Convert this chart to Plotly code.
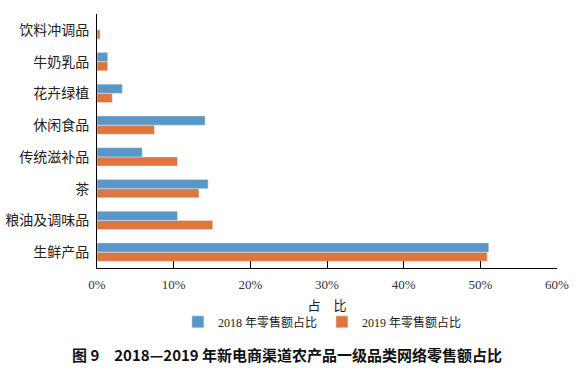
import plotly.graph_objects as go

categories = ["饮料冲调品", "牛奶乳品", "花卉绿植", "休闲食品", "传统滋补品", "茶", "粮油及调味品", "生鲜产品"]
share_2018 = [0.0, 1.4, 3.3, 14.1, 5.9, 14.5, 10.5, 51.1]
share_2019 = [0.4, 1.4, 2.0, 7.5, 10.5, 13.3, 15.1, 50.9]
x_ticks = [0, 10, 20, 30, 40, 50, 60]
x_tick_labels = ["0%", "10%", "20%", "30%", "40%", "50%", "60%"]

cjk = "Noto Sans CJK SC"
serif = "Liberation Serif"

fig = go.Figure()
fig.add_trace(go.Bar(y=categories, x=share_2019, orientation="h", name="2019 年零售额占比",
                     marker_color="#E0763F", legendrank=2))
fig.add_trace(go.Bar(y=categories, x=share_2018, orientation="h", name="2018 年零售额占比",
                     marker_color="#5A96C6", legendrank=1))

fig.update_layout(
    width=582, height=370,
    margin=dict(l=97, r=25, t=14, b=102),
    paper_bgcolor="white", plot_bgcolor="white",
    barmode="group", bargap=0.42, bargroupgap=0,
    font=dict(family=cjk, color="#222"),
    showlegend=True,
    legend=dict(orientation="h", x=0.49, xanchor="center", y=-0.155, yanchor="top",
                font=dict(family=serif + ", " + cjk, size=12, color="#222"),
                itemwidth=30, traceorder="normal", tracegroupgap=0),
    annotations=[dict(text="<b>图 9　2018—2019 年新电商渠道农产品一级品类网络零售额占比</b>",
                      xref="paper", yref="paper", x=0.413, y=-0.29, xanchor="center", yanchor="top",
                      showarrow=False, font=dict(family=cjk, size=15, color="#111"))],
)
fig.update_xaxes(range=[0, 60], tickvals=x_ticks, ticktext=x_tick_labels, automargin=False,
                 showgrid=False, zeroline=False, showline=True, linecolor="#000", linewidth=1,
                 ticks="inside", ticklen=7, tickcolor="#000", ticklabelstandoff=4,
                 tickfont=dict(family=serif, size=13, color="#333"),
                 title=dict(text="占　比", font=dict(family=cjk, size=13, color="#222"), standoff=10))
fig.update_yaxes(categoryorder="array", categoryarray=categories[::-1], automargin=False,
                 showgrid=False, zeroline=False, showline=True, linecolor="#000", linewidth=1,
                 ticks="", tickfont=dict(family=cjk, size=14, color="#222"), ticklabelstandoff=4)

fig.write_html("out.html")
